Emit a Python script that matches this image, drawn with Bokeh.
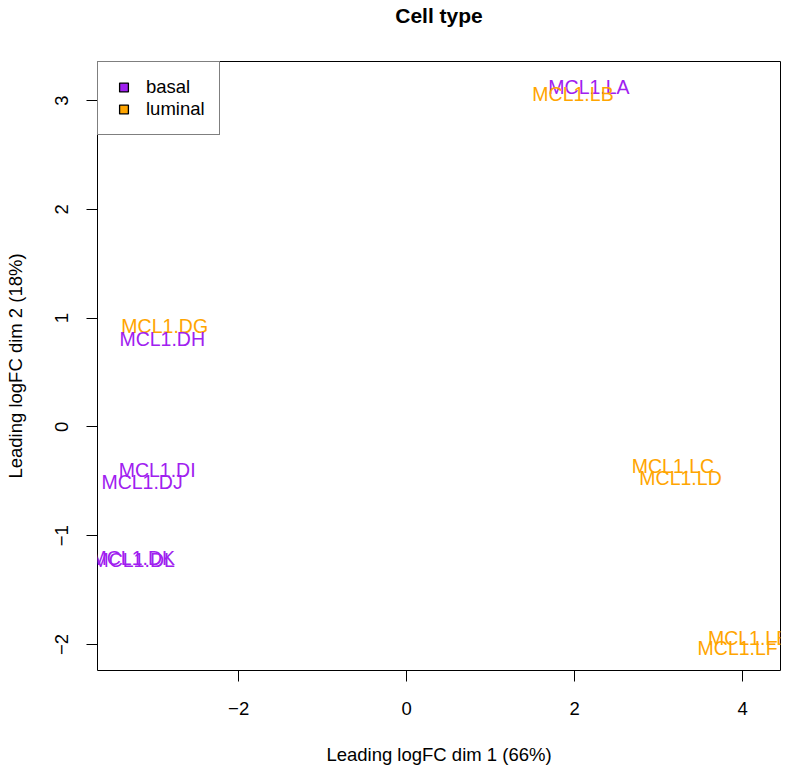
from bokeh.plotting import figure
from bokeh.models import Range1d, FixedTicker, ColumnDataSource, Legend, LegendItem, LinearAxis
from bokeh.core.properties import value
from bokeh.embed import file_html
from bokeh.resources import INLINE

# ---- data ----
samples = ["MCL1.DG", "MCL1.DH", "MCL1.DI", "MCL1.DJ", "MCL1.DK", "MCL1.DL",
           "MCL1.LA", "MCL1.LB", "MCL1.LC", "MCL1.LD", "MCL1.LE", "MCL1.LF"]
cell_type = ["luminal", "basal", "basal", "basal", "basal", "basal",
             "basal", "luminal", "luminal", "luminal", "luminal", "luminal"]
dim1 = [-2.88, -2.91, -2.97, -3.15, -3.26, -3.25, 2.17, 1.98, 3.17, 3.26, 4.07, 3.94]
dim2 = [0.93, 0.81, -0.40, -0.51, -1.21, -1.22, 3.13, 3.06, -0.36, -0.47, -1.94, -2.03]
groups = ["basal", "luminal"]
group_colors = {"basal": "#A020F0", "luminal": "#FFA500"}
x_ticks = [-2, 0, 2, 4]
y_ticks = [-2, -1, 0, 1, 2, 3]
title_text = "Cell type"
x_label = "Leading logFC dim 1 (66%)"
y_label = "Leading logFC dim 2 (18%)"

FONT = "Liberation Sans"

p = figure(width=784, height=768, output_backend="svg", toolbar_location=None,
           x_range=Range1d(-3.68, 4.45), y_range=Range1d(-2.24, 3.36),
           min_border_left=97, min_border_right=4, min_border_top=60,
           min_border_bottom=98)
p.title.visible = False
p.background_fill_color = "white"
p.border_fill_color = "white"
p.outline_line_color = "black"
p.outline_line_width = 1
p.xgrid.visible = False
p.ygrid.visible = False

for ax, ticks in ((p.xaxis[0], x_ticks), (p.yaxis[0], y_ticks)):
    ax.ticker = FixedTicker(ticks=ticks)
    ax.axis_line_color = None
    ax.minor_tick_line_color = None
    ax.major_tick_in = 0
    ax.major_tick_out = 11
    ax.major_tick_line_color = "black"
    ax.major_label_text_font = FONT
    ax.major_label_text_font_size = "18.5px"
    ax.major_label_text_color = "black"
    ax.axis_label_text_font = FONT
    ax.axis_label_text_font_size = "18.5px"
    ax.axis_label_text_font_style = "normal"
    ax.axis_label_text_color = "black"

p.xaxis.axis_label = x_label
p.yaxis.axis_label = y_label
p.xaxis.major_label_standoff = 20
p.yaxis.major_label_standoff = 18
p.yaxis.major_label_orientation = "vertical"
p.xaxis.axis_label_standoff = 26
p.yaxis.axis_label_standoff = 27

# title drawn as the label of a bare axis above the frame
title_axis = LinearAxis(ticker=FixedTicker(ticks=[]), axis_line_color=None,
                        major_tick_line_color=None, minor_tick_line_color=None,
                        major_label_text_font_size="0px",
                        axis_label=title_text, axis_label_standoff=35,
                        axis_label_text_font=FONT,
                        axis_label_text_font_size="21px",
                        axis_label_text_font_style="bold",
                        axis_label_text_color="black")
p.add_layout(title_axis, "above")

colors = [group_colors[c] for c in cell_type]
src = ColumnDataSource(dict(x=dim1, y=dim2, t=samples, c=colors))
p.text(x="x", y="y", text="t", source=src, text_color="c",
       text_align="center", text_baseline="middle",
       text_font=value(FONT), text_font_size="19.5px")

# legend (proxy glyphs placed far outside the visible range)
items = []
for g in groups:
    r = p.scatter(x=[-1000], y=[-1000], marker="square", size=14,
                  fill_color=group_colors[g], line_color="black", line_width=1.3)
    items.append(LegendItem(label=g, renderers=[r]))
legend = Legend(items=items, location="top_left", margin=0, padding=14,
                spacing=0, label_height=22, glyph_height=22, glyph_width=23,
                label_standoff=11, border_line_color="black",
                border_line_width=1, background_fill_alpha=1,
                label_text_font=FONT, label_text_font_size="18.5px",
                label_text_color="black")
p.add_layout(legend)

open("out.html", "w").write(file_html(p, INLINE))
